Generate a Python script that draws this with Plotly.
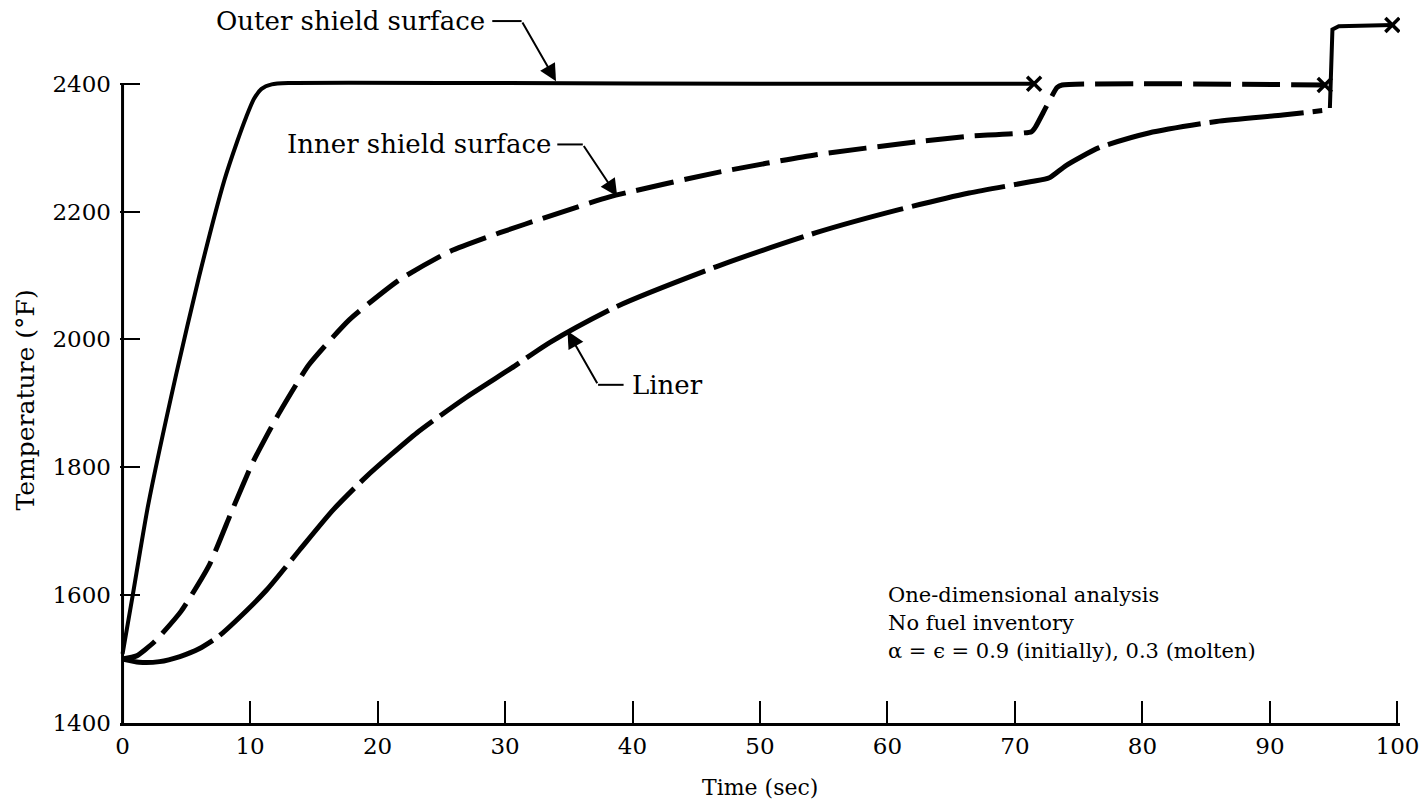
import plotly.graph_objects as go

# Time (sec) and temperature (deg F) for each surface
outer_t = [0, 0.8, 2.0, 4.2, 6.0, 8.0, 9.0, 9.7, 10.3, 10.9, 11.7, 13.0, 30.0, 50.0, 71.5]
outer_T = [1508, 1600, 1740, 1945, 2098, 2250, 2310, 2348, 2376, 2392, 2399, 2401, 2401, 2400, 2400]

inner_t = [0, 1.1, 2.5, 4.6, 6.8, 8.6, 10.2, 12.2, 14.6, 17.8, 21.7, 25.6, 29.6, 33.5, 38.2,
           46.6, 54.4, 62.3, 66.4, 71.3, 71.6, 73.3, 73.7, 94.3]
inner_T = [1500, 1505, 1527, 1575, 1647, 1733, 1807, 1882, 1960, 2031, 2093, 2137, 2167, 2193, 2223,
           2261, 2289, 2309, 2318, 2325, 2332, 2394, 2398, 2398]

liner_t = [0, 1.3, 2.9, 4.5, 6.0, 7.5, 8.9, 11.3, 13.9, 16.5, 19.1, 23.1, 27.0, 30.5, 33.5, 38.7,
           46.6, 54.4, 60.9, 66.4, 71.3, 72.7, 74.0, 76.6, 80.5, 85.8, 91.0, 94.1]
liner_T = [1500, 1495, 1496, 1504, 1516, 1535, 1560, 1608, 1671, 1733, 1785, 1854, 1910, 1955, 1995, 2051,
           2114, 2167, 2203, 2229, 2247, 2253, 2272, 2300, 2323, 2341, 2351, 2358]

# Molten phase after the shield fails
molten_t = [94.7, 94.9, 95.4, 99.6]
molten_T = [2362, 2485, 2490, 2492]

# Failure points marked with a cross
fail_t = [71.5, 94.3, 99.6]
fail_T = [2400, 2398, 2492]

x_ticks = [0, 10, 20, 30, 40, 50, 60, 70, 80, 90, 100]
y_ticks = [1400, 1600, 1800, 2000, 2200, 2400]

FONT = "DejaVu Serif"
INK = "black"

fig = go.Figure()
fig.add_trace(go.Scatter(x=outer_t, y=outer_T, mode="lines",
                         line=dict(color=INK, width=4, shape="spline", smoothing=0.6)))
fig.add_trace(go.Scatter(x=inner_t, y=inner_T, mode="lines",
                         line=dict(color=INK, width=5, dash="38px,11px", shape="spline", smoothing=0.5)))
fig.add_trace(go.Scatter(x=liner_t, y=liner_T, mode="lines",
                         line=dict(color=INK, width=5, dash="95px,9px", shape="spline", smoothing=0.6)))
fig.add_trace(go.Scatter(x=molten_t, y=molten_T, mode="lines",
                         line=dict(color=INK, width=4)))
fig.add_trace(go.Scatter(x=fail_t, y=fail_T, mode="markers",
                         marker=dict(symbol="x-thin", size=14, line=dict(color=INK, width=3.5))))

# Left axis line stops at the top tick
fig.add_shape(type="line", x0=0, x1=0, y0=1400, y1=2400, xref="x", yref="y",
              line=dict(color=INK, width=3))

def leader(text, tx, ty, anchor, hx0, hx1, tip_x, tip_y):
    fig.add_annotation(x=tx, y=ty, text=text, showarrow=False, xanchor=anchor, yanchor="middle",
                       font=dict(family=FONT, size=26, color=INK))
    fig.add_shape(type="line", x0=hx0, x1=hx1, y0=ty, y1=ty, line=dict(color=INK, width=2))
    fig.add_annotation(x=tip_x, y=tip_y, ax=hx1, ay=ty, axref="x", ayref="y", text="",
                       showarrow=True, arrowhead=2, arrowsize=1.7, arrowwidth=2, arrowcolor=INK)

leader("Outer shield surface", 28.6, 2498, "right", 29.0, 31.3, 34.0, 2404)
leader("Inner shield surface", 33.8, 2305, "right", 34.1, 36.1, 38.8, 2224)
leader("Liner", 39.8, 1929, "left", 39.3, 37.3, 34.9, 2013)

notes = ["One-dimensional analysis", "No fuel inventory", "α = ϵ = 0.9 (initially), 0.3 (molten)"]
for line_txt, yy in zip(notes, [1601, 1556, 1512]):
    fig.add_annotation(x=59.9, y=yy, text=line_txt, showarrow=False, xanchor="left", yanchor="middle",
                       font=dict(family=FONT, size=21, color=INK))

fig.add_annotation(x=50, y=-0.09, xref="x", yref="paper", text="Time (sec)", showarrow=False,
                   yanchor="middle", font=dict(family=FONT, size=22, color=INK))
fig.add_annotation(x=-0.074, y=1905, xref="paper", yref="y", text="Temperature (°F)", showarrow=False,
                   textangle=-90, xanchor="center", yanchor="middle",
                   font=dict(family=FONT, size=25, color=INK))

fig.update_layout(
    width=1426, height=803,
    margin=dict(l=120, r=26, t=7, b=80),
    paper_bgcolor="white", plot_bgcolor="white",
    showlegend=False,
    xaxis=dict(range=[-0.2, 100.2], tickvals=x_ticks, ticks="inside", ticklen=22, tickwidth=2,
               tickcolor=INK, showline=True, linecolor=INK, linewidth=3, showgrid=False,
               zeroline=False, tickfont=dict(family=FONT, size=23, color=INK)),
    yaxis=dict(range=[1400, 2520], tickvals=y_ticks, ticks="inside", ticklen=20, tickwidth=2,
               tickcolor=INK, showline=False, showgrid=False, zeroline=False,
               ticklabelstandoff=8, tickfont=dict(family=FONT, size=23, color=INK)),
)

fig.write_html("out.html")
